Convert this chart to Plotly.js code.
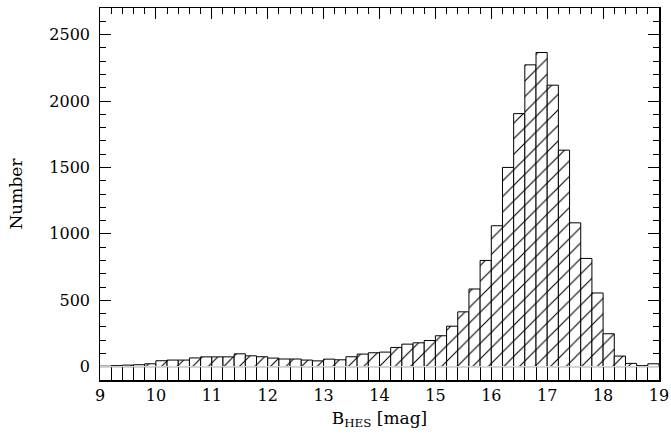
<!DOCTYPE html>
<html>
<head>
<meta charset="utf-8">
<script src="https://cdn.plot.ly/plotly-3.0.1.min.js"></script>
<style>html,body{margin:0;padding:0;background:#fff;}#chart{width:671px;height:439px;}</style>
</head>
<body>
<div id="chart"></div>
<script>
// Histogram of B_HES magnitudes, bins of 0.2 mag from 9 to 19
const binStart = 9.0;
const binWidth = 0.2;
const counts = [
  4, 8, 12, 15, 22, 45, 50, 50, 66, 74,
  74, 74, 97, 82, 75, 65, 58, 58, 50, 44,
  57, 52, 75, 95, 105, 110, 145, 170, 180, 197,
  233, 305, 413, 585, 800, 1061, 1500, 1905, 2272, 2365,
  2119, 1630, 1083, 815, 555, 248, 80, 25, 8, 22
];
const xTickStep = 1;      // labelled tick spacing on the magnitude axis
const yTickStep = 500;    // labelled tick spacing on the count axis
const xTitle = 'B<sub>HES</sub> [mag]';
const yTitle = 'Number';

const centers = counts.map((c, i) => +(binStart + binWidth * (i + 0.5)).toFixed(3));

const FONT = 'DejaVu Serif, Liberation Serif, serif';

const bars = {
  type: 'bar',
  x: centers,
  y: counts,
  width: binWidth,
  marker: {
    color: '#ffffff',
    line: {color: '#000000', width: 1},
    pattern: {shape: '/', size: 11, solidity: 0.1, fgcolor: '#000000', bgcolor: '#ffffff'}
  },
  hoverinfo: 'x+y'
};
const ghost = {
  type: 'scatter', mode: 'markers', x: centers, y: counts,
  marker: {size: 1, color: 'rgba(0,0,0,0)'},
  xaxis: 'x2', yaxis: 'y2', hoverinfo: 'skip', showlegend: false
};

const tickfont = {family: FONT, size: 16, color: '#000'};
const base = {
  showgrid: false, zeroline: false, showline: true, linecolor: '#000', linewidth: 1.5,
  ticks: 'inside', tickwidth: 1, tickcolor: '#000', tickfont: tickfont, tickmode: 'linear'
};

const layout = {
  width: 671, height: 439,
  margin: {l: 100, r: 12, t: 8, b: 59},
  paper_bgcolor: '#fff', plot_bgcolor: '#fff',
  showlegend: false,
  bargap: 0,
  font: {family: FONT, color: '#000'},
  xaxis: Object.assign({}, base, {
    range: [9, 19], tick0: 9, dtick: xTickStep, ticklen: 13,
    minor: {dtick: binWidth, tick0: 9, ticklen: 13, ticks: 'inside', tickcolor: '#000', tickwidth: 1, showgrid: false},
    title: {text: xTitle, font: {family: FONT, size: 17, color: '#000'}, standoff: 8}
  }),
  xaxis2: Object.assign({}, base, {
    overlaying: 'x', side: 'top', range: [9, 19], tick0: 9, dtick: xTickStep,
    showticklabels: false, ticklen: 11,
    minor: {dtick: binWidth, tick0: 9, ticklen: 6, ticks: 'inside', tickcolor: '#000', tickwidth: 1, showgrid: false}
  }),
  yaxis: Object.assign({}, base, {
    range: [-100, 2700], tick0: 0, dtick: yTickStep, ticklen: 11, ticksuffix: '\u2004',
    minor: {dtick: 100, tick0: 0, ticklen: 6, ticks: 'inside', tickcolor: '#000', tickwidth: 1, showgrid: false},
    title: {text: yTitle, font: {family: FONT, size: 17, color: '#000'}, standoff: 22}
  }),
  yaxis2: Object.assign({}, base, {
    overlaying: 'y', side: 'right', range: [-100, 2700], tick0: 0, dtick: yTickStep,
    showticklabels: false, ticklen: 11,
    minor: {dtick: 100, tick0: 0, ticklen: 6, ticks: 'inside', tickcolor: '#000', tickwidth: 1, showgrid: false}
  }),
  shapes: [{
    type: 'line', xref: 'x', yref: 'y', x0: 9, x1: 19, y0: 0, y1: 0,
    line: {color: '#ffffff', width: 1}, layer: 'above'
  }]
};

Plotly.newPlot('chart', [bars, ghost], layout, {staticPlot: true, displayModeBar: false});
</script>
</body>
</html>
